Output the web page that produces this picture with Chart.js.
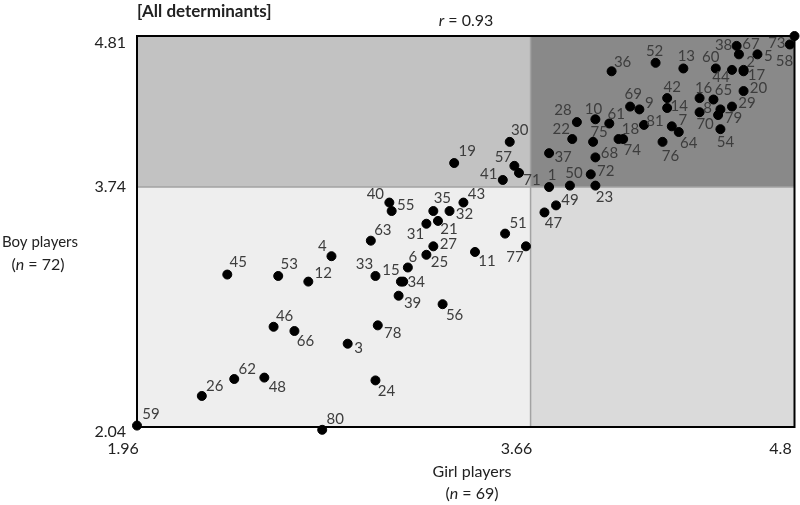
<!DOCTYPE html>
<html lang="en">
<head>
    <meta charset="UTF-8">
    <title>All determinants - Girl vs Boy players</title>
    <script src="https://cdn.jsdelivr.net/npm/chart.js"></script>
    <style>
        body { margin: 0; padding: 0; background: #ffffff; }
        .chart-box { width: 800px; height: 505px; position: relative; }
    </style>
</head>
<body>
    <div class="chart-box">
        <canvas id="scatterChart"></canvas>
    </div>

    <script>
        // determinant numbers
        let ids = [1,2,3,4,5,6,7,8,9,10,11,12,13,14,15,16,17,18,19,20,21,22,23,24,25,26,27,28,29,30,
                   31,32,33,34,35,36,37,38,39,40,41,42,43,44,45,46,47,48,49,50,51,52,53,54,55,56,57,58,59,60,
                   61,62,63,64,65,66,67,68,69,70,71,72,73,74,75,76,77,78,79,80,81];
        // girl players (x)
        let girlScores = [3.74,4.58,2.87,2.80,4.64,3.13,4.27,4.39,4.13,3.94,3.42,2.70,4.32,4.25,3.10,4.39,4.58,4.04,3.33,4.58,
                          3.26,3.84,3.94,2.99,3.21,2.24,3.24,3.86,4.53,3.57,3.21,3.31,2.99,3.11,3.24,4.01,3.74,4.55,3.09,3.05,
                          3.54,4.25,3.37,4.53,2.35,2.55,3.72,2.51,3.77,3.83,3.55,4.20,2.57,4.48,3.06,3.28,3.59,4.80,1.96,4.46,
                          4.00,2.38,2.97,4.30,4.45,2.64,4.56,3.94,4.09,4.47,3.61,3.92,4.78,4.06,3.93,4.23,3.64,3.00,4.48,2.76,4.15];
        // boy players (y)
        let boyScores = [3.74,4.57,2.63,3.25,4.68,3.17,4.17,4.27,4.29,4.22,3.28,3.07,4.58,4.30,3.07,4.37,4.56,4.08,3.91,4.42,
                         3.50,4.08,3.75,2.37,3.26,2.26,3.32,4.20,4.31,4.06,3.48,3.57,3.11,3.07,3.57,4.56,3.98,4.74,2.97,3.63,
                         3.79,4.37,3.63,4.57,3.12,2.75,3.56,2.39,3.61,3.75,3.41,4.62,3.11,4.15,3.57,2.91,3.89,4.81,2.05,4.58,
                         4.19,2.38,3.36,4.13,4.36,2.72,4.68,3.95,4.31,4.25,3.84,3.83,4.75,4.08,4.06,4.06,3.32,2.76,4.29,2.02,4.18];

        let xTicks = [1.96, 3.66, 4.8];
        let yTicks = [2.04, 3.74, 4.81];
        let xCut = 3.66;
        let yCut = 3.74;

        // where each number sits next to its dot (pixels, dx/dy)
        let labelOffsets = [
            [3,-12],[7,-8],[11,4],[-9,-10],[11,2],[5,-10],[11,-6],[8,-4],[10,-6],[-2,-10],
            [12,9],[15,-8],[3,-12],[12,-2],[-10,-11],[4,-10],[13,4],[12,-10],[13,-12],[15,-3],
            [11,8],[-11,-10],[9,12],[11,11],[13,7],[13,-10],[15,-2],[-14,-12],[15,-3],[10,-12],
            [-11,10],[15,3],[-11,-12],[13,1],[9,-13],[11,-9],[14,4],[-13,-1],[14,7],[-14,-8],
            [-14,-6],[5,-11],[13,-8],[-11,7],[11,-12],[11,-11],[9,11],[13,10],[14,-5],[4,-12],
            [13,-10],[-1,-12],[11,-12],[5,13],[14,-6],[12,11],[-11,-9],[-10,25],[14,-11],[-5,-11],
            [7,-9],[13,-10],[12,-11],[10,11],[10,-9],[11,10],[12,-10],[14,-4],[3,-12],[-13,9],
            [13,7],[15,-3],[-13,-1],[9,11],[6,-10],[8,14],[-11,11],[15,8],[13,9],[13,-11],[11,-4]
        ];

        let points = girlScores.map((g, i) => ({ x: g, y: boyScores[i] }));

        const quadrantPlugin = {
            id: "quadrants",
            beforeDatasetsDraw(chart) {
                let ctx = chart.ctx;
                let a = chart.chartArea;
                let xs = chart.scales.x, ys = chart.scales.y;
                let cx = xs.getPixelForValue(xCut);
                let cy = ys.getPixelForValue(yCut);
                ctx.save();
                ctx.fillStyle = "#c2c2c2";
                ctx.fillRect(a.left, a.top, cx - a.left, cy - a.top);
                ctx.fillStyle = "#898989";
                ctx.fillRect(cx, a.top, a.right - cx, cy - a.top);
                ctx.fillStyle = "#eeeeee";
                ctx.fillRect(a.left, cy, cx - a.left, a.bottom - cy);
                ctx.fillStyle = "#dadada";
                ctx.fillRect(cx, cy, a.right - cx, a.bottom - cy);

                ctx.strokeStyle = "#a3a3a3";
                ctx.lineWidth = 1.5;
                ctx.beginPath();
                ctx.moveTo(cx, a.top); ctx.lineTo(cx, a.bottom);
                ctx.moveTo(a.left, cy); ctx.lineTo(a.right, cy);
                ctx.stroke();

                ctx.strokeStyle = "#000000";
                ctx.lineWidth = 2;
                ctx.strokeRect(a.left, a.top, a.right - a.left, a.bottom - a.top);
                ctx.restore();
            },
            afterDatasetsDraw(chart) {
                let ctx = chart.ctx;
                let meta = chart.getDatasetMeta(0);
                ctx.save();
                ctx.font = "15px Lato";
                ctx.fillStyle = "#3d3d3d";
                ctx.textAlign = "center";
                ctx.textBaseline = "middle";
                meta.data.forEach((pt, i) => {
                    let off = labelOffsets[i];
                    ctx.fillText(String(ids[i]), pt.x + off[0], pt.y + off[1]);
                });
                ctx.restore();
            },
            afterDraw(chart) {
                let ctx = chart.ctx;
                let xs = chart.scales.x, ys = chart.scales.y;
                ctx.save();
                ctx.fillStyle = "#222222";
                ctx.textBaseline = "middle";

                // title
                ctx.font = "bold 17px Lato";
                ctx.textAlign = "left";
                ctx.fillText("[All determinants]", 137, 12);

                // r = 0.93
                ctx.font = "italic 16px Lato";
                let rW = ctx.measureText("r").width;
                ctx.font = "16px Lato";
                let restW = ctx.measureText(" = 0.93").width;
                let start = 466 - (rW + restW) / 2;
                ctx.font = "italic 16px Lato";
                ctx.fillText("r", start, 21);
                ctx.font = "16px Lato";
                ctx.fillText(" = 0.93", start + rW, 21);

                // tick labels
                ctx.font = "16px Lato";
                ctx.textAlign = "right";
                let yShift = [5, 0, 7];
                yTicks.forEach((v, i) => {
                    ctx.fillText(String(v), 126, ys.getPixelForValue(v) + yShift[i]);
                });
                ctx.textAlign = "center";
                xTicks.forEach(v => {
                    ctx.fillText(String(v), xs.getPixelForValue(v) - 14, 449);
                });

                // axis titles
                ctx.font = "15px Lato";
                ctx.textAlign = "left";
                ctx.fillText("Boy players", 2, 242);
                drawN(ctx, "72", 38, 265);
                ctx.textAlign = "center";
                ctx.font = "16px Lato";
                ctx.fillText("Girl players", 472, 472);
                drawN(ctx, "69", 472, 494);
                ctx.restore();
            }
        };

        function drawN(ctx, num, cx, y) {
            let parts = [["(", "16px Lato"], ["n", "italic 16px Lato"], [" = " + num + ")", "16px Lato"]];
            let total = 0;
            parts.forEach(p => { ctx.font = p[1]; total += ctx.measureText(p[0]).width; });
            let xPos = cx - total / 2;
            ctx.textAlign = "left";
            parts.forEach(p => {
                ctx.font = p[1];
                ctx.fillText(p[0], xPos, y);
                xPos += ctx.measureText(p[0]).width;
            });
            ctx.textAlign = "center";
            ctx.font = "16px Lato";
        }

        let scatterChart = new Chart(document.getElementById("scatterChart").getContext("2d"), {
            type: "scatter",
            data: {
                datasets: [{
                    data: points,
                    backgroundColor: "#000000",
                    borderColor: "#000000",
                    pointRadius: 4.5,
                    pointHoverRadius: 4.5,
                    clip: false
                }]
            },
            options: {
                responsive: true,
                maintainAspectRatio: false,
                animation: false,
                layout: { padding: { left: 137, right: 5, top: 36, bottom: 78 } },
                plugins: { legend: { display: false }, tooltip: { enabled: false } },
                scales: {
                    x: { type: "linear", min: xTicks[0], max: xTicks[2], display: false },
                    y: { type: "linear", min: yTicks[0], max: yTicks[2], display: false }
                }
            },
            plugins: [quadrantPlugin]
        });
    </script>
</body>
</html>
